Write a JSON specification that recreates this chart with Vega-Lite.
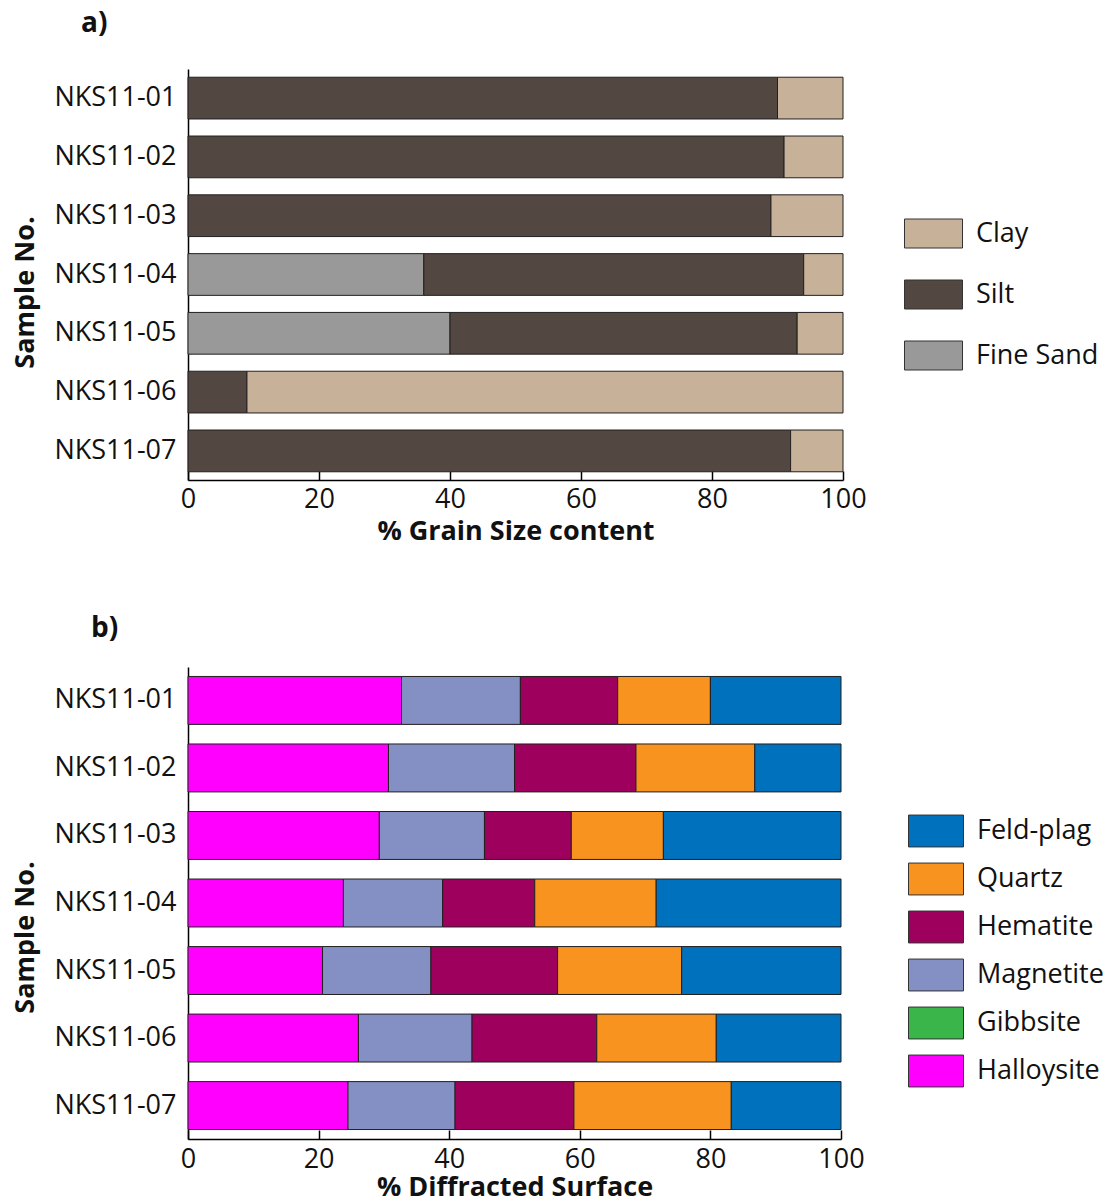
{
  "$schema": "https://vega.github.io/schema/vega-lite/v6.json",
  "background": "white",
  "padding": {"left": 11, "top": 10, "right": 5, "bottom": 2},
  "config": {
    "font": "Open Sans",
    "view": {"stroke": null},
    "axis": {"grid": false, "domainColor": "#000", "domainWidth": 1.5, "tickColor": "#000", "tickWidth": 1.5, "labelColor": "#111", "titleColor": "#111", "labelFontSize": 27, "titleFontSize": 27, "titleFontWeight": "bold", "labelFont": "Open Sans", "labelFlush": false},
    "legend": {"labelFontSize": 27, "labelColor": "#111", "padding": 0, "symbolStrokeColor": "#333", "symbolStrokeWidth": 1, "symbolOpacity": 1, "labelOffset": 13},
    "title": {"fontSize": 28, "fontWeight": "bold", "anchor": "start", "frame": "group", "color": "#111"}
  },
  "spacing": 71,
  "resolve": {"scale": {"color": "independent", "x": "independent", "y": "independent"}, "legend": {"color": "independent"}},
  "vconcat": [
    {
      "title": {"text": "a)", "dx": -107, "offset": 31},
      "width": 655,
      "height": 411,
      "data": {"values": [
        {"sample": "NKS11-01", "type": "Silt", "value": 90},
        {"sample": "NKS11-01", "type": "Clay", "value": 10},
        {"sample": "NKS11-02", "type": "Silt", "value": 91},
        {"sample": "NKS11-02", "type": "Clay", "value": 9},
        {"sample": "NKS11-03", "type": "Silt", "value": 89},
        {"sample": "NKS11-03", "type": "Clay", "value": 11},
        {"sample": "NKS11-04", "type": "Fine Sand", "value": 36},
        {"sample": "NKS11-04", "type": "Silt", "value": 58},
        {"sample": "NKS11-04", "type": "Clay", "value": 6},
        {"sample": "NKS11-05", "type": "Fine Sand", "value": 40},
        {"sample": "NKS11-05", "type": "Silt", "value": 53},
        {"sample": "NKS11-05", "type": "Clay", "value": 7},
        {"sample": "NKS11-06", "type": "Silt", "value": 9},
        {"sample": "NKS11-06", "type": "Clay", "value": 91},
        {"sample": "NKS11-07", "type": "Silt", "value": 92},
        {"sample": "NKS11-07", "type": "Clay", "value": 8}
      ]},
      "transform": [{"calculate": "indexof(['Fine Sand', 'Silt', 'Clay'], datum.type)", "as": "stackOrder"}],
      "mark": {"type": "bar", "stroke": "#231f20", "strokeWidth": 1},
      "encoding": {
        "y": {"field": "sample", "type": "nominal", "scale": {"paddingInner": 0.29, "paddingOuter": 0.14},
          "axis": {"title": "Sample No.", "ticks": false, "labelPadding": 12, "titlePadding": 14, "titleY": 223}},
        "x": {"field": "value", "type": "quantitative", "stack": "zero", "scale": {"domain": [0, 100], "nice": false},
          "axis": {"title": "% Grain Size content", "values": [0, 20, 40, 60, 80, 100], "tickSize": -9, "labelPadding": 15, "titlePadding": 6}},
        "order": {"field": "stackOrder", "type": "quantitative", "sort": "ascending"},
        "color": {"field": "type", "type": "nominal",
          "scale": {"domain": ["Clay", "Silt", "Fine Sand"], "range": ["#c7b299", "#534741", "#999999"]},
          "legend": {"title": null, "orient": "none", "legendX": 716, "legendY": 135, "symbolType": "M-1,-0.5H1V0.5H-1Z", "symbolSize": 3364, "rowPadding": 15}}
      }
    },
    {
      "title": {"text": "b)", "dx": -97, "offset": 24},
      "width": 653,
      "height": 472,
      "data": {"values": [
        {"sample": "NKS11-01", "mineral": "Halloysite", "value": 32.7},
        {"sample": "NKS11-01", "mineral": "Magnetite", "value": 18.2},
        {"sample": "NKS11-01", "mineral": "Hematite", "value": 14.9},
        {"sample": "NKS11-01", "mineral": "Quartz", "value": 14.2},
        {"sample": "NKS11-01", "mineral": "Feld-plag", "value": 20.0},
        {"sample": "NKS11-02", "mineral": "Halloysite", "value": 30.7},
        {"sample": "NKS11-02", "mineral": "Magnetite", "value": 19.3},
        {"sample": "NKS11-02", "mineral": "Hematite", "value": 18.6},
        {"sample": "NKS11-02", "mineral": "Quartz", "value": 18.2},
        {"sample": "NKS11-02", "mineral": "Feld-plag", "value": 13.2},
        {"sample": "NKS11-03", "mineral": "Halloysite", "value": 29.3},
        {"sample": "NKS11-03", "mineral": "Magnetite", "value": 16.1},
        {"sample": "NKS11-03", "mineral": "Hematite", "value": 13.3},
        {"sample": "NKS11-03", "mineral": "Quartz", "value": 14.1},
        {"sample": "NKS11-03", "mineral": "Feld-plag", "value": 27.2},
        {"sample": "NKS11-04", "mineral": "Halloysite", "value": 23.8},
        {"sample": "NKS11-04", "mineral": "Magnetite", "value": 15.2},
        {"sample": "NKS11-04", "mineral": "Hematite", "value": 14.1},
        {"sample": "NKS11-04", "mineral": "Quartz", "value": 18.6},
        {"sample": "NKS11-04", "mineral": "Feld-plag", "value": 28.3},
        {"sample": "NKS11-05", "mineral": "Halloysite", "value": 20.6},
        {"sample": "NKS11-05", "mineral": "Magnetite", "value": 16.6},
        {"sample": "NKS11-05", "mineral": "Hematite", "value": 19.4},
        {"sample": "NKS11-05", "mineral": "Quartz", "value": 19.0},
        {"sample": "NKS11-05", "mineral": "Feld-plag", "value": 24.4},
        {"sample": "NKS11-06", "mineral": "Halloysite", "value": 26.1},
        {"sample": "NKS11-06", "mineral": "Magnetite", "value": 17.4},
        {"sample": "NKS11-06", "mineral": "Hematite", "value": 19.1},
        {"sample": "NKS11-06", "mineral": "Quartz", "value": 18.3},
        {"sample": "NKS11-06", "mineral": "Feld-plag", "value": 19.1},
        {"sample": "NKS11-07", "mineral": "Halloysite", "value": 24.5},
        {"sample": "NKS11-07", "mineral": "Magnetite", "value": 16.4},
        {"sample": "NKS11-07", "mineral": "Hematite", "value": 18.2},
        {"sample": "NKS11-07", "mineral": "Quartz", "value": 24.1},
        {"sample": "NKS11-07", "mineral": "Feld-plag", "value": 16.8}
      ]},
      "transform": [{"calculate": "indexof(['Halloysite', 'Gibbsite', 'Magnetite', 'Hematite', 'Quartz', 'Feld-plag'], datum.mineral)", "as": "stackOrder"}],
      "mark": {"type": "bar", "stroke": "#231f20", "strokeWidth": 1},
      "encoding": {
        "y": {"field": "sample", "type": "nominal", "scale": {"paddingInner": 0.29, "paddingOuter": 0.14},
          "axis": {"title": "Sample No.", "ticks": false, "labelPadding": 12, "titlePadding": 14, "titleY": 270}},
        "x": {"field": "value", "type": "quantitative", "stack": "zero", "scale": {"domain": [0, 100], "nice": false},
          "axis": {"title": "% Diffracted Surface", "values": [0, 20, 40, 60, 80, 100], "tickSize": -9, "labelPadding": 16, "titlePadding": 2}},
        "order": {"field": "stackOrder", "type": "quantitative", "sort": "ascending"},
        "color": {"field": "mineral", "type": "nominal",
          "scale": {"domain": ["Feld-plag", "Quartz", "Hematite", "Magnetite", "Gibbsite", "Halloysite"], "range": ["#0071bc", "#f7931e", "#9e005d", "#8490c4", "#39b54a", "#ff00ff"]},
          "legend": {"title": null, "orient": "none", "legendX": 720, "legendY": 136, "symbolType": "M-1,-0.58H1V0.58H-1Z", "symbolSize": 3025, "rowPadding": 2}}
      }
    }
  ]
}
